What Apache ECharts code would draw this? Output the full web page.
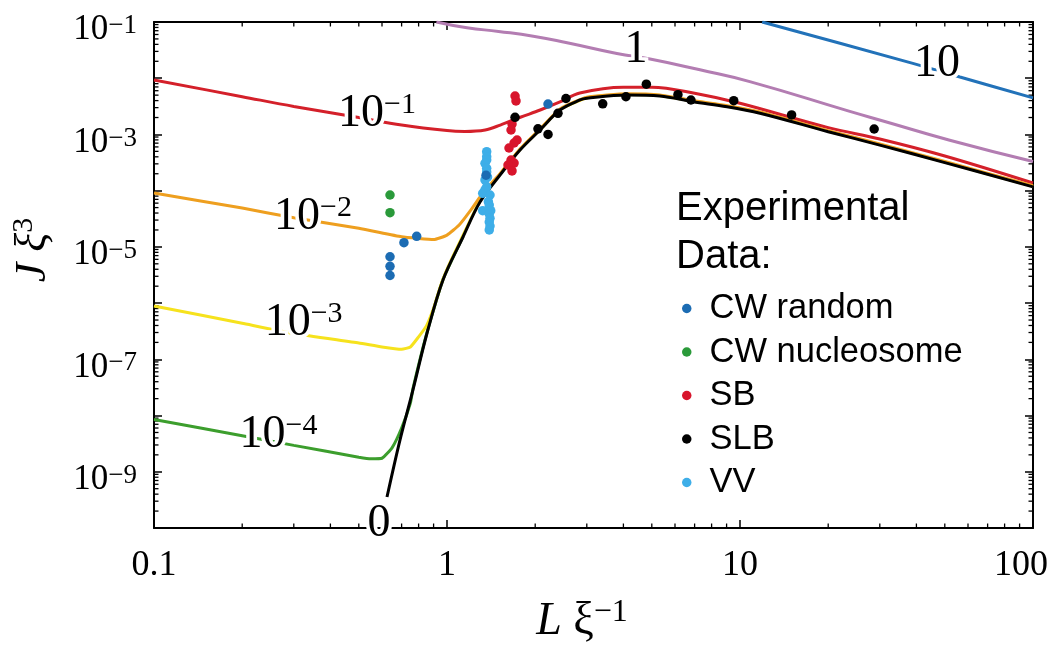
<!DOCTYPE html>
<html><head><meta charset="utf-8">
<script src="https://cdn.jsdelivr.net/npm/echarts@6/dist/echarts.min.js"></script>
<style>html,body{margin:0;padding:0;background:#fff}#c{width:1050px;height:651px}</style>
</head><body><div id="c"></div>
<script>
// ---- axis ranges & ticks ----
const X_MIN = 0.1, X_MAX = 100, Y_MIN = 1e-10, Y_MAX = 1e-1;
const xDecades = [0.1, 1, 10];
const yDecades = [1e-10, 1e-9, 1e-8, 1e-7, 1e-6, 1e-5, 1e-4, 1e-3, 1e-2];
const xMinorTicks = [];
xDecades.forEach(d => { for (let m = 2; m <= 9; m++) xMinorTicks.push(+(m * d).toPrecision(3)); });
const yMinorTicks = [];
yDecades.forEach(d => { for (let m = 2; m <= 9; m++) yMinorTicks.push(+(m * d).toPrecision(3)); });

// ---- theory curves [L/xi, J xi^3] ----
const curve0 = [[0.624,3.56e-10],[0.691,3.67e-9],[0.765,2.84e-8],[0.855,2.94e-7],[0.969,2.58e-6],[1.134,1.5e-5],[1.296,6.28e-5],[1.517,1.9e-4],[1.775,5.28e-4],[2.077,1.2e-3],[2.43,2.72e-3],[2.844,4.1e-3],[3.005,4.4e-3],[4.115,5.04e-3],[5.33,4.83e-3],[6.91,3.82e-3],[9.03,3.11e-3],[11.7,2.38e-3],[20,1.12e-3],[30,6.46e-4],[50,3.16e-4],[100,1.17e-4]];
const curveM4 = [[0.1,8.5e-9],[0.2,4.37e-9],[0.3,2.95e-9],[0.5,1.82e-9],[0.55,1.7e-9],[0.6,1.74e-9],[0.65,2.69e-9],[0.7,6.0e-9],[0.75,1.66e-8],[0.765,3.0e-8],[0.855,3.05e-7],[0.969,2.62e-6],[1.134,1.52e-5]];
const curveM3 = [[0.1,8.9e-7],[0.2,4.37e-7],[0.3,2.88e-7],[0.5,1.95e-7],[0.6,1.66e-7],[0.7,1.51e-7],[0.75,1.66e-7],[0.8,2.51e-7],[0.85,3.89e-7],[0.9,8.1e-7],[0.95,2.0e-6],[1.0,4.0e-6],[1.134,1.6e-5],[1.296,6.6e-5],[1.517,1.97e-4],[1.775,5.4e-4],[2.077,1.22e-3],[2.43,2.78e-3],[3.005,4.5e-3],[4.115,5.15e-3],[5.33,4.95e-3],[6.91,3.9e-3],[9.03,3.18e-3],[11.7,2.44e-3],[20,1.14e-3],[30,6.6e-4],[50,3.22e-4],[100,1.19e-4]];
const curveM2 = [[0.1,9.1e-5],[0.2,4.9e-5],[0.3,3.3e-5],[0.5,2.14e-5],[0.7,1.51e-5],[0.8,1.41e-5],[0.9,1.35e-5],[1.0,1.62e-5],[1.1,2.45e-5],[1.2,4.37e-5],[1.3,7.94e-5],[1.4,1.26e-4],[1.517,2.0e-4],[1.775,5.5e-4],[2.077,1.25e-3],[2.43,2.85e-3],[3.005,4.6e-3],[4.115,5.3e-3],[5.33,5.05e-3],[6.91,4.0e-3],[9.03,3.25e-3],[11.7,2.5e-3],[20,1.17e-3],[30,6.8e-4],[50,3.3e-4],[100,1.22e-4]];
const curveM1 = [[0.1,9.3e-3],[0.2,4.7e-3],[0.3,3.15e-3],[0.5,2.0e-3],[0.7,1.47e-3],[1.0,1.17e-3],[1.15,1.13e-3],[1.35,1.2e-3],[1.52,1.47e-3],[1.78,2.02e-3],[2.08,2.72e-3],[2.43,3.78e-3],[2.84,5.46e-3],[4.0,6.9e-3],[5.0,6.9e-3],[7.0,5.4e-3],[10,3.58e-3],[20,1.32e-3],[30,8.3e-4],[50,4.14e-4],[100,1.37e-4]];
const curve1 = [[0.92,0.1],[1.17,7.9e-2],[1.5,6.8e-2],[1.97,5.6e-2],[2.57,4.27e-2],[3.80,2.75e-2],[4.93,2.2e-2],[7.3,1.41e-2],[10.8,8.7e-3],[23.7,2.57e-3],[31.2,1.7e-3],[52,7.9e-4],[100,3.3e-4]];
const curve10 = [[11.9,0.1],[38.9,1.84e-2],[56.3,1.05e-2],[100,4.47e-3]];

// ---- curve labels ----
const labelX    = [0.577, 0.349, 0.324, 0.266, 4.42, 47.0, 0.586];
const labelY    = [2.35e-3, 3.47e-5, 4.52e-7, 4.6e-9, 3.24e-2, 1.76e-2, 1.16e-10];
const labelBase = ['10', '10', '10', '10', '1', '10', '0'];
const labelExp  = ['−1', '−2', '−3', '−4', '', '', ''];

// ---- experimental data ----
const cwRandom = [[0.639,6.68e-6],[0.639,4.52e-6],[0.639,3.1e-6],[0.713,1.19e-5],[0.788,1.54e-5],[1.359,1.88e-4],[2.212,3.47e-3]];
const cwNucleosome = [[0.639,8.37e-5],[0.639,4.06e-5]];
const sb = [[1.707,4.83e-3],[1.72,3.94e-3],[1.667,1.53e-3],[1.654,1.2e-3],[1.734,7.97e-4],[1.694,7.04e-4],[1.628,5.74e-4],[1.654,3.51e-4],[1.694,3.1e-4],[1.615,2.86e-4],[1.667,2.24e-4]];
const slb = [[1.707,2.02e-3],[2.044,1.26e-3],[2.212,1.0e-3],[2.392,2.38e-3],[2.547,4.36e-3],[3.40,3.51e-3],[4.08,4.68e-3],[4.79,7.83e-3],[6.14,5.09e-3],[6.80,4.1e-3],[9.52,3.98e-3],[15.0,2.22e-3],[28.7,1.25e-3]];
const vv = [[1.366,4.93e-4],[1.366,4.02e-4],[1.366,3.51e-4],[1.348,3.07e-4],[1.366,2.5e-4],[1.366,2.15e-4],[1.375,1.75e-4],[1.348,1.55e-4],[1.366,1.17e-4],[1.348,1.03e-4],[1.324,8.97e-5],[1.402,8.37e-5],[1.384,6.37e-5],[1.394,5.56e-5],[1.324,4.4e-5],[1.41,4.4e-5],[1.394,3.85e-5],[1.402,3.22e-5],[1.394,2.77e-5],[1.402,2.35e-5],[1.394,2.0e-5]];

const legendNames = ['CW random', 'CW nucleosome', 'SB', 'SLB', 'VV'];

const SERIF = 'Liberation Serif';
const SANS = 'Liberation Sans';

function lineSeries(data, color, smooth) {
  return { type: 'line', data: data, symbol: 'none', smooth: smooth, silent: true,
    lineStyle: { color: color, width: 3 }, z: 2 };
}
function dotSeries(name, data, color) {
  return { type: 'scatter', name: name, data: data, symbol: 'circle', symbolSize: 9.5,
    itemStyle: { color: color, opacity: 1 }, z: 3 };
}
function labelSeries(halo) {
  const st = halo
    ? { color: '#ffffff', textBorderColor: '#ffffff', textBorderWidth: 7 }
    : { color: '#000000', textBorderWidth: 0, textBorderColor: 'transparent' };
  return { type: 'scatter', silent: true, z: halo ? 5 : 6, symbolSize: 1, itemStyle: { color: 'rgba(255,255,255,0)' },
    data: labelX.map((x, i) => [x, labelY[i]]),
    label: Object.assign({ show: true, position: 'inside', opacity: 1, fontFamily: SERIF, fontSize: 46,
      formatter: p => '{b|' + labelBase[p.dataIndex] + '}' + (labelExp[p.dataIndex] ? '{s|' + labelExp[p.dataIndex] + '}' : ''),
      rich: {
        b: Object.assign({ fontFamily: SERIF, fontSize: 46, lineHeight: 46 }, st),
        s: Object.assign({ fontFamily: SERIF, fontSize: 30, lineHeight: 30, verticalAlign: 'top' }, st) } }, st) };
}

const tickLen = 8, minorLen = 4.5;

const chart = echarts.init(document.getElementById('c'), null, { renderer: 'canvas' });
const baseX = { type: 'log', logBase: 10, min: X_MIN, max: X_MAX, interval: 1, splitLine: { show: false },
  axisLine: { show: true, lineStyle: { color: '#000', width: 2 } },
  axisTick: { show: true, inside: true, length: tickLen, lineStyle: { color: '#000', width: 1.5 } } };
const baseY = { type: 'log', logBase: 10, min: Y_MIN, max: Y_MAX, interval: 1, splitLine: { show: false },
  axisLine: { show: true, lineStyle: { color: '#000', width: 2 } },
  axisTick: { show: true, inside: true, length: tickLen, lineStyle: { color: '#000', width: 1.5 } } };

const option = {
  animation: false,
  backgroundColor: '#fff',
  grid: { left: 154, right: 17, top: 22, bottom: 123, containLabel: false, outerBoundsMode: 'none' },
  title: { text: 'Experimental\nData:', left: 676, top: 185, padding: 0,
    textStyle: { fontFamily: SANS, fontSize: 40, fontWeight: 'normal', lineHeight: 48, color: '#000' } },
  legend: { data: legendNames, orient: 'vertical', left: 682, top: 291, padding: 0,
    itemWidth: 9.5, itemHeight: 9.5, itemGap: 8.5, icon: 'circle', selectedMode: false,
    textStyle: { fontFamily: SANS, fontSize: 34.5, color: '#000', lineHeight: 34, padding: [0, 0, 0, 13] } },
  xAxis: [
    Object.assign({}, baseX, { position: 'bottom',
      axisLabel: { show: true, margin: 20, showMinLabel: true, showMaxLabel: true, hideOverlap: false,
        fontFamily: SERIF, fontSize: 36, color: '#000',
        formatter: v => { const n = Number(v.toPrecision(3)); return n >= 100 ? '{r|' + n + '}' : String(n); },
        rich: { r: { fontFamily: SERIF, fontSize: 36, color: '#000', padding: [0, 24, 0, 0] } } },
      name: '{i|L}{sp| }{g|ξ}{s|−1}', nameLocation: 'middle', nameGap: 69,
      nameTextStyle: { padding: [0, 23, 0, 0], rich: {
        i: { fontFamily: SERIF, fontStyle: 'italic', fontSize: 46, lineHeight: 50, color: '#000' },
        sp: { fontFamily: SERIF, fontSize: 46, lineHeight: 50, color: '#000' },
        g: { fontFamily: SERIF, fontSize: 46, lineHeight: 50, color: '#000' },
        s: { fontFamily: SERIF, fontSize: 32, lineHeight: 32, verticalAlign: 'top', color: '#000' } } } }),
    Object.assign({}, baseX, { position: 'top', axisLabel: { show: false } })
  ],
  yAxis: [
    Object.assign({}, baseY, { position: 'left',
      axisLabel: { show: true, margin: 17, showMinLabel: true, showMaxLabel: true, hideOverlap: false,
        padding: [16, 0, 0, 0],
        formatter: v => { const e = Math.round(Math.log10(v)); return (e % 2 !== 0) ? '{b|10}{s|−' + Math.abs(e) + '}' : ''; },
        rich: {
          b: { fontFamily: SERIF, fontSize: 35, lineHeight: 35, color: '#000' },
          s: { fontFamily: SERIF, fontSize: 27, lineHeight: 27, verticalAlign: 'top', color: '#000' } } },
      name: '{i|J}{sp| }{g|ξ}{s|3}', nameLocation: 'middle', nameRotate: 90, nameGap: 97,
      nameTextStyle: { padding: [0, 0, 0, 50], rich: {
        i: { fontFamily: SERIF, fontStyle: 'italic', fontSize: 44, lineHeight: 48, color: '#000' },
        sp: { fontFamily: SERIF, fontSize: 44, lineHeight: 48, color: '#000' },
        g: { fontFamily: SERIF, fontStyle: 'italic', fontSize: 44, lineHeight: 48, color: '#000' },
        s: { fontFamily: SERIF, fontSize: 30, lineHeight: 30, verticalAlign: 'top', color: '#000' } } } }),
    Object.assign({}, baseY, { position: 'right', axisLabel: { show: false } })
  ],
  series: [
    // minor ticks drawn through the axis scales
    { type: 'custom', silent: true, clip: false, z: 1, xAxisIndex: 0, yAxisIndex: 0,
      data: xMinorTicks.map(v => [v, Y_MIN]),
      renderItem: (params, api) => {
        const v = api.value(0);
        const pb = api.coord([v, Y_MIN]), pt = api.coord([v, Y_MAX]);
        return { type: 'group', children: [
          { type: 'line', shape: { x1: pb[0], y1: pb[1], x2: pb[0], y2: pb[1] - minorLen }, style: { stroke: '#000', lineWidth: 1.3 } },
          { type: 'line', shape: { x1: pt[0], y1: pt[1], x2: pt[0], y2: pt[1] + minorLen }, style: { stroke: '#000', lineWidth: 1.3 } } ] };
      } },
    { type: 'custom', silent: true, clip: false, z: 1, xAxisIndex: 0, yAxisIndex: 0,
      data: yMinorTicks.map(v => [X_MIN, v]),
      renderItem: (params, api) => {
        const v = api.value(1);
        const pl = api.coord([X_MIN, v]), pr = api.coord([X_MAX, v]);
        return { type: 'group', children: [
          { type: 'line', shape: { x1: pl[0], y1: pl[1], x2: pl[0] + minorLen, y2: pl[1] }, style: { stroke: '#000', lineWidth: 1.3 } },
          { type: 'line', shape: { x1: pr[0], y1: pr[1], x2: pr[0] - minorLen, y2: pr[1] }, style: { stroke: '#000', lineWidth: 1.3 } } ] };
      } },
    lineSeries(curve10, '#2272b9', 0.2),
    lineSeries(curve1, '#b37db2', 0.5),
    lineSeries(curveM1, '#d4202a', 0.35),
    lineSeries(curveM4, '#3c9e2d', 0.15),
    lineSeries(curveM3, '#f6e21d', 0.15),
    lineSeries(curveM2, '#ee9f1f', 0.15),
    lineSeries(curve0, '#000000', 0.35),
    dotSeries('VV', vv, '#3eaee8'),
    dotSeries('SB', sb, '#d8152c'),
    dotSeries('SLB', slb, '#000000'),
    dotSeries('CW nucleosome', cwNucleosome, '#2a9a3a'),
    dotSeries('CW random', cwRandom, '#1c6cb3'),
    labelSeries(true),
    labelSeries(false)
  ]
};
chart.setOption(option);
</script>
</body></html>
